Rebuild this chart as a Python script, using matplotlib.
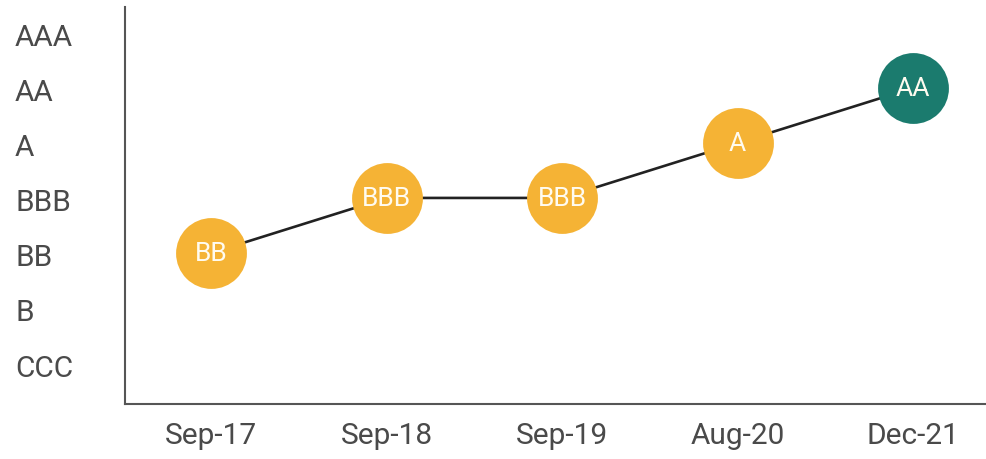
import matplotlib

matplotlib.use("Agg")
import matplotlib.pyplot as plt
from matplotlib.transforms import offset_copy

plt.rcParams["font.family"] = ["Roboto", "DejaVu Sans"]

ratings = ["CCC", "B", "BB", "BBB", "A", "AA", "AAA"]
dates = ["Sep-17", "Sep-18", "Sep-19", "Aug-20", "Dec-21"]
history = ["BB", "BBB", "BBB", "A", "AA"]

ORANGE = "#F5B335"
TEAL = "#1B7B6E"
TEXT = "#4A4A4A"

fig = plt.figure(figsize=(9.87, 4.6), dpi=100)
ax = fig.add_axes([125 / 987, 55 / 460, 862 / 987, 397 / 460])

x = list(range(len(dates)))
y = [ratings.index(r) for r in history]

ax.plot(x, y, color="#222222", lw=1.9, zorder=1)
for xi, yi, lab in zip(x, y, history):
    col = TEAL if xi == len(x) - 1 else ORANGE
    ax.plot(xi, yi, "o", ms=51, color=col, mec="none", zorder=2)
    ax.text(xi, yi, lab, ha="center", va="center", color="#FFFBF0",
            fontsize=19, zorder=3)

ax.set_xlim(-0.49, 4.42)
ax.set_ylim(-0.745, 6.47)
ax.set_xticks(x)
ax.set_xticklabels(dates)
ax.tick_params(axis="x", length=0, labelsize=21.5, labelcolor=TEXT, pad=12)

# rating names, left aligned at the figure edge
ax.set_yticks([])
lab_tr = offset_copy(ax.get_yaxis_transform(), fig=fig, x=0, y=-4.5, units="dots")
for i, r in enumerate(ratings):
    ax.text(-110 / 862, i, r, transform=lab_tr, ha="left", va="center",
            fontsize=21.5, color=TEXT)

for s in ("top", "right"):
    ax.spines[s].set_visible(False)
for s in ("left", "bottom"):
    ax.spines[s].set_color("#555555")
    ax.spines[s].set_linewidth(1.5)

fig.savefig("out.png", dpi=100)
